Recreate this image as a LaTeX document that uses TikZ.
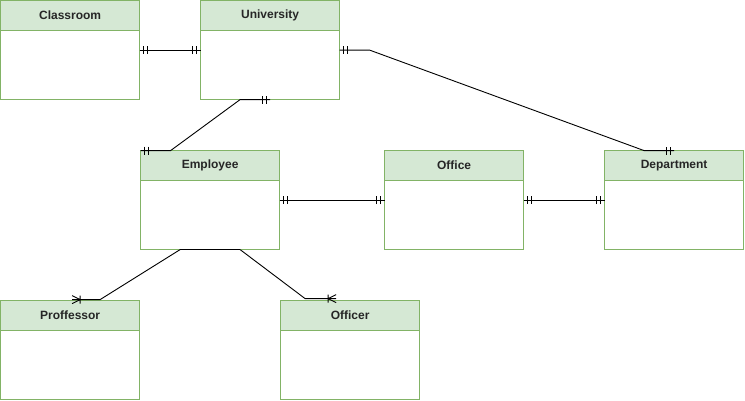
\documentclass[tikz,border=0pt]{standalone}
\usepackage{fontspec}
\setmainfont{Liberation Sans}
\usetikzlibrary{calc}
\definecolor{hdrfill}{HTML}{D5E8D4}
\definecolor{hdrline}{HTML}{82B366}
\begin{document}
\begin{tikzpicture}[x=1pt,y=-1pt,
  entity/.style={minimum width=139pt, minimum height=99pt,
    anchor=north west, inner sep=0pt, outer sep=0pt},
  title/.style={font=\bfseries\fontsize{12}{14}\selectfont, text=black!85},
  rel/.style={draw=black, line width=0.9pt},
  pics/twobar/.style={code={\draw[rel] (4,-4)--(4,4) (8,-4)--(8,4);}},
  pics/crow/.style={code={\draw[rel] (0,-4)--(8,0)--(0,4) (8,-4)--(8,4);}},
]
\useasboundingbox (0,0) rectangle (745,401);
\newcommand\entbox[3]{%
  \node[entity] (#1) at (#2) {};
  \fill[white] (#1.north west) rectangle (#1.south east);
  \fill[hdrfill] (#1.north west) rectangle ($(#1.north east)+(0,30)$);
  \draw[hdrline, line width=1.2pt] (#1.north west) rectangle (#1.south east)
     ($(#1.north west)+(0,30)$) -- ($(#1.north east)+(0,30)$);
  \node[title] at ($(#1.north)+(0,15)$) {#3};}
\entbox{cls}{0.6,0.6}{Classroom}
\entbox{uni}{200.6,0.6}{University}
\entbox{emp}{140.6,150.6}{Employee}
\entbox{off}{384.6,150.6}{Office}
\entbox{dep}{604.6,150.6}{Department}
\entbox{prof}{0.6,300.6}{Proffessor}
\entbox{ofc}{280.6,300.6}{Officer}
% Classroom - University
\draw[rel] (cls.east) -- (uni.west);
\pic at (cls.east) {twobar};
\pic[rotate=180] at (uni.west) {twobar};
% Employee - Office
\draw[rel] (emp.east) -- (off.west);
\pic at (emp.east) {twobar};
\pic[rotate=180] at (off.west) {twobar};
% Office - Department
\draw[rel] (off.east) -- (dep.west);
\pic at (off.east) {twobar};
\pic[rotate=180] at (dep.west) {twobar};
% University - Department
\draw[rel] (uni.east) -- ++(30,0) -- ($(dep.north)+(-30,0)$) -- (dep.north);
\pic at (uni.east) {twobar};
\pic[rotate=180] at (dep.north) {twobar};
% University - Employee
\draw[rel] (uni.south) -- ++(-30,0) -- ($(emp.north west)+(30,0)$) -- (emp.north west);
\pic[rotate=180] at (uni.south) {twobar};
\pic at (emp.north west) {twobar};
% Employee - Proffessor / Officer
\coordinate (el) at ($(emp.south)+(-30,0)$);
\coordinate (er) at ($(emp.south)+(30,0)$);
\coordinate (pe) at ($(prof.north)+(2,-1)$);
\coordinate (oe) at ($(ofc.north)+(-14,-2)$);
\draw[rel] (el) -- (er);
\draw[rel] (el) -- ($(pe)+(28,0)$) -- (pe);
\pic at (pe) {crow};
\draw[rel] (er) -- ($(oe)+(-31,0)$) -- (oe);
\pic[rotate=180] at (oe) {crow};
\end{tikzpicture}
\end{document}
